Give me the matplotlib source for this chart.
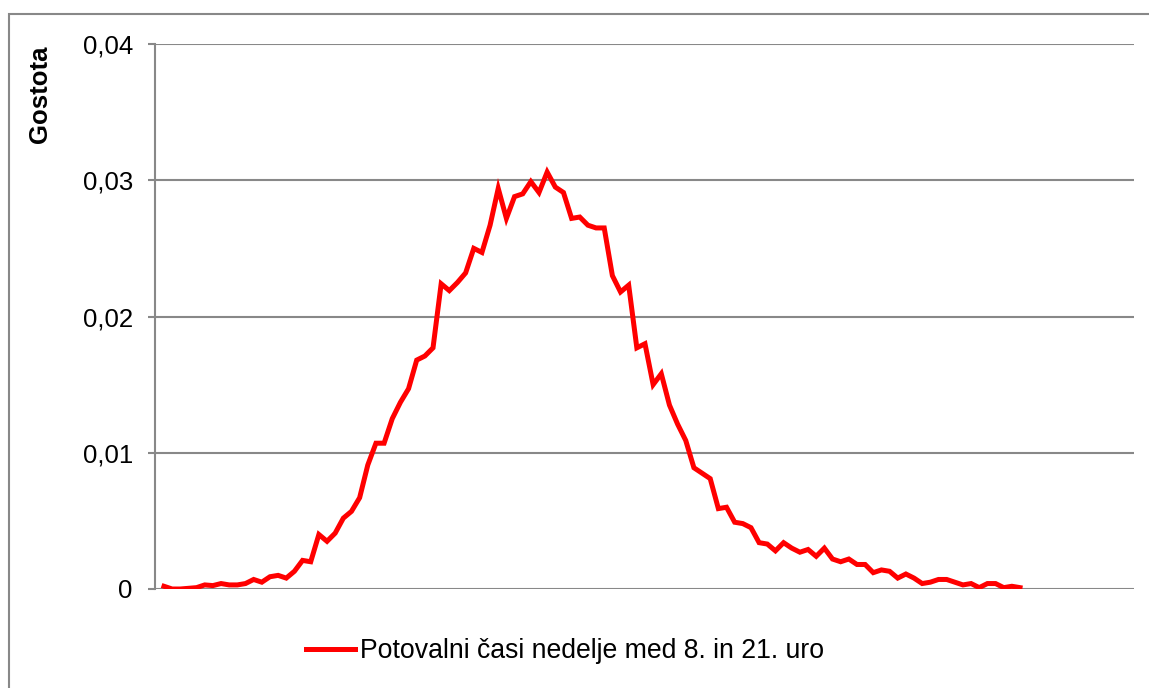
import matplotlib
matplotlib.use('Agg')
import matplotlib.pyplot as plt
from matplotlib.patches import Rectangle
from matplotlib.ticker import FuncFormatter

# gostota potovalnih časov (vrednosti odčitane s slike)
gostota = [
    0.0002, 0.0000, 0.0000, 0.00005, 0.0001, 0.0003, 0.00025, 0.0004, 0.0003, 0.0003,
    0.0004, 0.0007, 0.0005, 0.0009, 0.0010, 0.0008, 0.0013, 0.0021, 0.0020, 0.0040,
    0.0035, 0.0041, 0.0052, 0.0057, 0.0067, 0.0091, 0.0107, 0.0107, 0.0125, 0.0137,
    0.0147, 0.0168, 0.0171, 0.0177, 0.0224, 0.0219, 0.0225, 0.0232, 0.0250, 0.0247,
    0.0267, 0.0294, 0.0272, 0.0288, 0.0290, 0.0299, 0.0291, 0.0306, 0.0295, 0.0291,
    0.0272, 0.0273, 0.0267, 0.0265, 0.0265, 0.0230, 0.0218, 0.0223, 0.0177, 0.0180,
    0.0150, 0.0158, 0.0135, 0.0121, 0.0109, 0.0089, 0.0085, 0.0081, 0.0059, 0.0060,
    0.0049, 0.0048, 0.0045, 0.0034, 0.0033, 0.0028, 0.0034, 0.0030, 0.0027, 0.0029,
    0.0024, 0.0030, 0.0022, 0.0020, 0.0022, 0.0018, 0.0018, 0.0012, 0.0014, 0.0013,
    0.0008, 0.0011, 0.0008, 0.0004, 0.0005, 0.0007, 0.0007, 0.0005, 0.0003, 0.0004,
    0.0001, 0.0004, 0.0004, 0.0001, 0.0002, 0.0001,
]
y_ticks = [0, 0.01, 0.02, 0.03, 0.04]
serija = 'Potovalni časi nedelje med 8. in 21. uro'

plt.rcParams['font.family'] = ['Liberation Sans', 'DejaVu Sans']
plt.rcParams['font.size'] = 18.5

fig = plt.figure(figsize=(11.49, 6.88), dpi=100)
ax = fig.add_axes([155 / 1149, 99 / 688, 979 / 1149, 545 / 688])

x = list(range(len(gostota)))
line, = ax.plot(x, gostota, color='#ff0000', linewidth=3.6, solid_joinstyle='miter',
                label=serija)

ax.set_xlim(-1.1, 118.98)
ax.set_ylim(0, 0.04)
ax.set_yticks(y_ticks)
ax.yaxis.set_major_formatter(FuncFormatter(
    lambda v, p: '0' if v == 0 else f'{v:.2f}'.replace('.', ',')))
ax.set_xticks([])
ax.grid(True, axis='y', color='#888888', linewidth=1.5)
ax.set_axisbelow(True)
for s in ['top', 'right', 'bottom']:
    ax.spines[s].set_visible(False)
ax.spines['left'].set_color('#888888')
ax.spines['left'].set_linewidth(1.5)
ax.tick_params(axis='y', length=5, width=1.5, color='#888888', pad=11, labelcolor='black')

fig.text(40 / 1149, 1 - 94 / 688, 'Gostota', rotation=90, ha='center', va='center',
         fontweight='bold')

fig.legend(handles=[line], loc='center', bbox_to_anchor=(565 / 1149, 1 - 651 / 688),
           frameon=False, handlelength=1.85, handletextpad=0.2, fontsize=19.2)

# okvir okoli grafa
fig.patches.append(Rectangle((9 / 1149, -0.05), 1.1, 1 - 14 / 688 + 0.05,
                             transform=fig.transFigure, fill=False,
                             edgecolor='#888888', linewidth=1.5))

fig.savefig('out.png', dpi=100)
